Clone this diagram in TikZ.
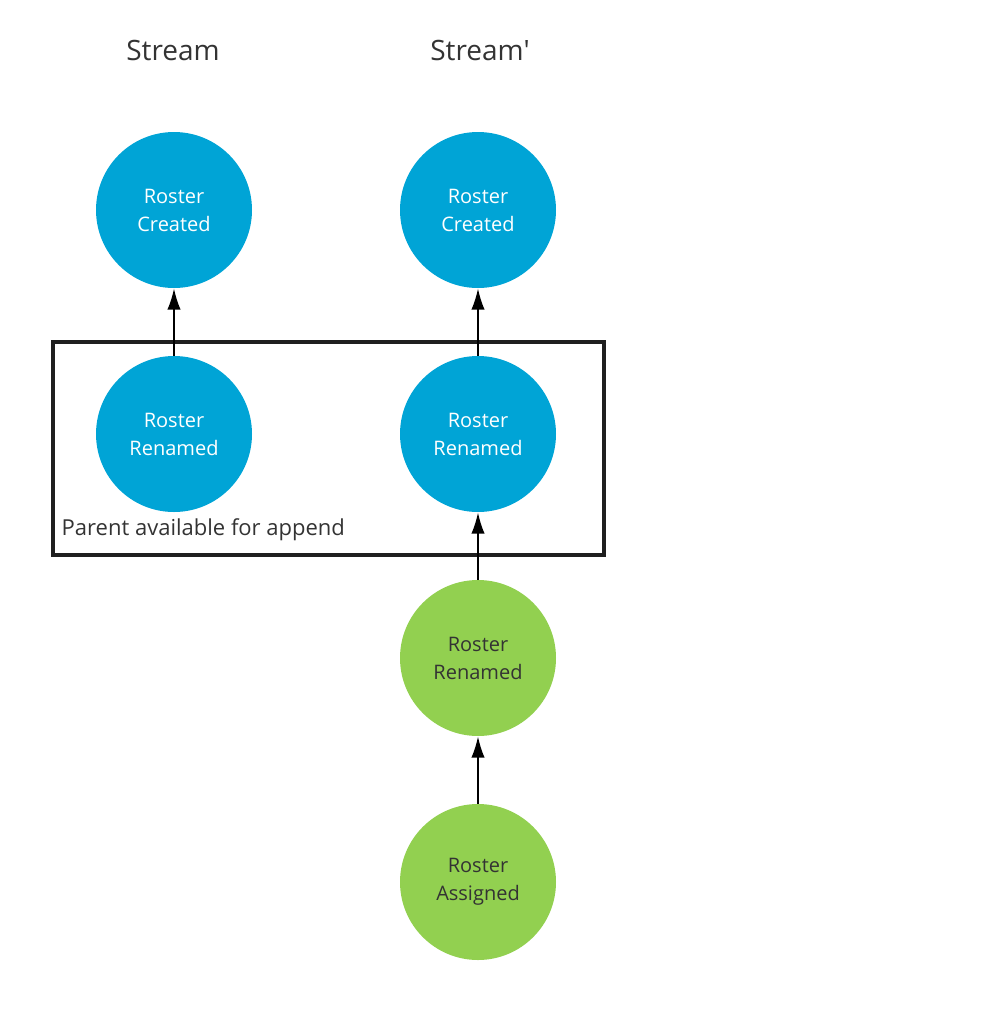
\documentclass[tikz,border=0pt]{standalone}
\usepackage{fontspec}
\setmainfont{Open Sans}[Ligatures=TeXOff]
\usetikzlibrary{arrows.meta}

\definecolor{evblue}{RGB}{0,164,214}
\definecolor{evgreen}{RGB}{146,208,80}
\definecolor{txtgray}{RGB}{51,51,51}

\begin{document}
\begin{tikzpicture}[x=0.75pt, y=-0.75pt,
    event/.style={circle, minimum size=117pt, inner sep=0pt, align=center, font=\fontsize{15}{21}\selectfont},
    old/.style={event, fill=evblue, text=white},
    new/.style={event, fill=evgreen, text=txtgray},
    link/.style={line width=1.5pt, -{Latex[length=16pt,width=10pt]}}]
        \useasboundingbox (0, 0) rectangle (988, 1011);

        \node (s1) at (173, 50) [font=\fontsize{21}{25}\selectfont, text=txtgray] {Stream};
        \node (s2) at (480, 50) [font=\fontsize{21}{25}\selectfont, text=txtgray] {Stream'};

        \node (c1) at (174, 210) [old] {Roster\\Created};
        \node (r1) at (174, 434) [old] {Roster\\Renamed};

        \node (c2) at (478, 210) [old] {Roster\\Created};
        \node (r2) at (478, 434) [old] {Roster\\Renamed};
        \node (r3) at (478, 658) [new] {Roster\\Renamed};
        \node (a3) at (478, 882) [new] {Roster\\Assigned};

        \draw [line width=2.5pt, black!88] (53, 342) rectangle (604, 555);
        \node (parent) at (57, 530) [anchor=west, font=\fontsize{16.5}{20}\selectfont, text=txtgray] {Parent available for append};

        \foreach \a/\b in {r1/c1, r2/c2, r3/r2, a3/r3}
            {\draw [link] (\a) -- (\b);}
    \end{tikzpicture}
\end{document}
